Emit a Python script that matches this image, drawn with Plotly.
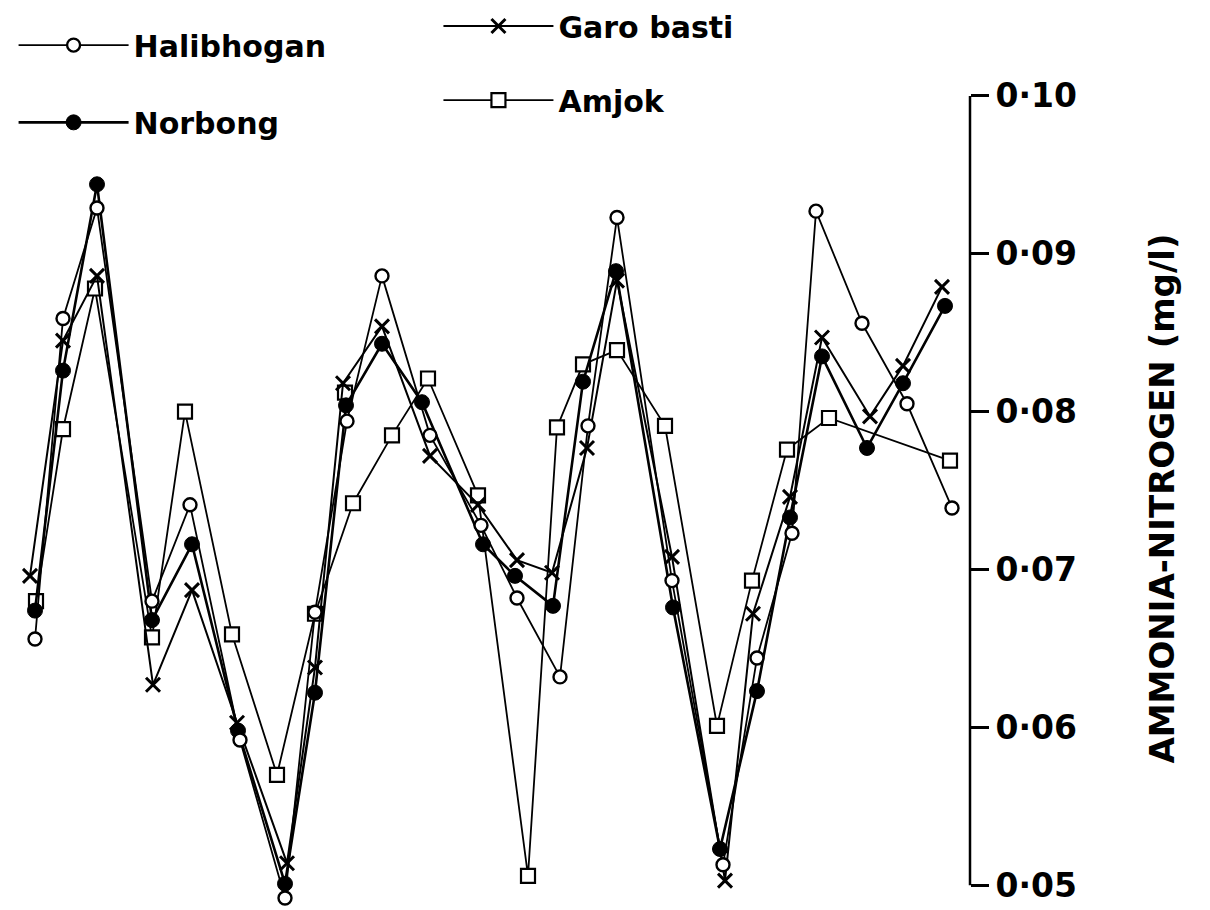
import plotly.graph_objects as go

# y-axis ticks
tick_values = [0.05, 0.06, 0.07, 0.08, 0.09, 0.10]
tick_labels = ["0·05", "0·06", "0·07", "0·08", "0·09", "0·10"]

# sampling positions (arbitrary time units) and values (mg/l)
hal_x = [35, 63, 97, 152, 190, 240, 285, 315, 347, 382, 430, 481, 517, 560, 588, 617, 672, 723, 757, 792, 816, 862, 907, 952]
hal_y = [0.0656, 0.0859, 0.0929, 0.0680, 0.0741, 0.0592, 0.0492, 0.0673, 0.0794, 0.0886, 0.0785, 0.0728,
         0.0682, 0.0632, 0.0791, 0.0923, 0.0693, 0.0513, 0.0644, 0.0723, 0.0927, 0.0856, 0.0805, 0.0739]

nor_x = [35, 63, 97, 152, 192, 238, 285, 315, 346, 382, 422, 483, 515, 553, 583, 616, 673, 720, 757, 790, 822, 867, 903, 945]
nor_y = [0.0674, 0.0826, 0.0944, 0.0668, 0.0716, 0.0598, 0.0501, 0.0622, 0.0804, 0.0843, 0.0806, 0.0716,
         0.0696, 0.0677, 0.0819, 0.0889, 0.0676, 0.0523, 0.0623, 0.0733, 0.0835, 0.0777, 0.0818, 0.0867]

garo_x = [30, 63, 97, 153, 192, 237, 287, 315, 343, 382, 430, 478, 517, 552, 587, 617, 672, 725, 753, 790, 822, 870, 903, 942]
garo_y = [0.0696, 0.0845, 0.0886, 0.0627, 0.0687, 0.0603, 0.0514, 0.0638, 0.0818, 0.0854, 0.0772, 0.0741,
          0.0706, 0.0698, 0.0777, 0.0883, 0.0708, 0.0503, 0.0672, 0.0746, 0.0847, 0.0797, 0.0829, 0.0879]

amj_x = [36, 63, 95, 152, 185, 232, 277, 315, 353, 392, 428, 478, 528, 557, 583, 617, 665, 717, 752, 787, 829, 950]
amj_y = [0.0680, 0.0789, 0.0878, 0.0657, 0.0800, 0.0659, 0.0570, 0.0672, 0.0742, 0.0785, 0.0821, 0.0747,
         0.0506, 0.0790, 0.0830, 0.0839, 0.0791, 0.0601, 0.0693, 0.0776, 0.0796, 0.0769]

amj_extra_x = [345]
amj_extra_y = [0.0812]

FONT = "DejaVu Sans"
fig = go.Figure()

fig.add_trace(go.Scatter(
    x=amj_x, y=amj_y, mode="lines+markers", name="Amjok", legend="legend4",
    line=dict(color="black", width=1.8),
    marker=dict(symbol="square", size=14, color="white", line=dict(color="black", width=2.2)),
    cliponaxis=False))
fig.add_trace(go.Scatter(
    x=amj_extra_x, y=amj_extra_y, mode="markers", name="Amjok", showlegend=False,
    marker=dict(symbol="square", size=14, color="white", line=dict(color="black", width=2.2)),
    cliponaxis=False))
fig.add_trace(go.Scatter(
    x=garo_x, y=garo_y, mode="lines+markers", name="Garo basti", legend="legend3",
    line=dict(color="black", width=2.0),
    marker=dict(symbol="x-thin", size=14, color="black", line=dict(color="black", width=3)),
    cliponaxis=False))
fig.add_trace(go.Scatter(
    x=nor_x, y=nor_y, mode="lines+markers", name="Norbong", legend="legend2",
    line=dict(color="black", width=2.6),
    marker=dict(symbol="circle", size=15, color="black", line=dict(color="black", width=1)),
    cliponaxis=False))
fig.add_trace(go.Scatter(
    x=hal_x, y=hal_y, mode="lines+markers", name="Halibhogan", legend="legend",
    line=dict(color="black", width=1.8),
    marker=dict(symbol="circle", size=13, color="white", line=dict(color="black", width=2.4)),
    cliponaxis=False))

fig.add_shape(type="line", xref="paper", x0=1, x1=1, yref="y",
              y0=tick_values[0], y1=tick_values[-1], line=dict(color="black", width=2.5))

leg_common = dict(font=dict(family=FONT, size=30, color="black", weight="bold"),
                  bgcolor="rgba(0,0,0,0)", itemwidth=110, yanchor="middle", xanchor="left",
                  orientation="v")

fig.update_layout(
    width=1210, height=910, template="none",
    paper_bgcolor="white", plot_bgcolor="white",
    margin=dict(l=0, r=240, t=87, b=1),
    xaxis=dict(visible=False, range=[0, 970], automargin=False),
    yaxis=dict(side="right", range=[0.0485, 0.1005], tickvals=tick_values, ticktext=tick_labels,
               showgrid=False, zeroline=False, showline=False, ticks="outside", ticklen=18,
               tickwidth=2.5, tickcolor="black", automargin=False,
               tickfont=dict(family=FONT, size=33, color="black", weight="bold"),
               title=dict(text="AMMONIA-NITROGEN (mg/l)", standoff=74,
                          font=dict(family=FONT, size=34, color="black", weight="bold"))),
    showlegend=True,
    legend=dict(x=0.014, y=1.051, **leg_common),
    legend2=dict(x=0.014, y=0.957, **leg_common),
    legend3=dict(x=0.452, y=1.075, **leg_common),
    legend4=dict(x=0.452, y=0.984, **leg_common),
)

fig.write_html("out.html")
